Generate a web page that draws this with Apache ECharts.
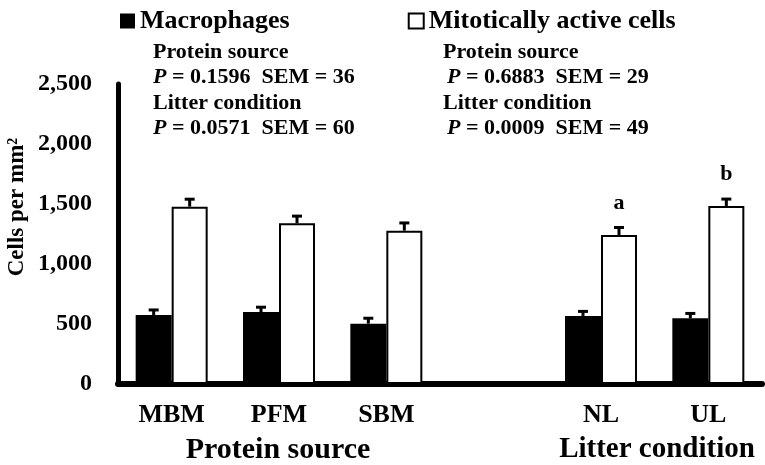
<!DOCTYPE html>
<html>
<head>
<meta charset="utf-8">
<script src="https://cdn.jsdelivr.net/npm/echarts@6/dist/echarts.min.js"></script>
<style>
html, body { margin: 0; padding: 0; background: #fff; }
#main { width: 765px; height: 465px; }
</style>
</head>
<body>
<div id="main"></div>
<script>
var categories = ['MBM', 'PFM', 'SBM', '', 'NL', 'UL'];
var macrophages = [575, 600, 503, null, 567, 547];
var macrophagesErr = [42, 40, 45, null, 38, 41];
var mitotic = [1478, 1339, 1278, null, 1242, 1483];
var mitoticErr = [62, 60, 64, null, 62, 58];
var sigLetters = ['', '', '', '', 'a', 'b'];
var yTicks = [0, 500, 1000, 1500, 2000, 2500];
var groupNames = ['Protein source', 'Litter condition'];
// [factor, P, SEM]
var statsMacro = [['Protein source', '0.1596', '36'], ['Litter condition', '0.0571', '60']];
var statsMitotic = [['Protein source', '0.6883', '29'], ['Litter condition', '0.0009', '49']];

var FONT = 'Liberation Serif, Times New Roman, serif';
var BAR_W = 36;

var dom = document.getElementById('main');
var myChart = echarts.init(dom);

function errData(means, errs) {
	var out = [];
	for (var i = 0; i < means.length; i++) {
		if (means[i] != null) out.push([i, means[i], errs[i]]);
	}
	return out;
}

function errRender(offset) {
	return function (params, api) {
		var x = api.value(0), y = api.value(1), e = api.value(2);
		var base = api.coord([x, y]);
		var top = api.coord([x, y + e]);
		var cx = base[0] + offset;
		return {
			type: 'group',
			children: [{
				type: 'line',
				shape: { x1: cx, y1: base[1], x2: cx, y2: top[1] },
				style: { stroke: '#000', lineWidth: 3 }
			}, {
				type: 'line',
				shape: { x1: cx - 5, y1: top[1], x2: cx + 5, y2: top[1] },
				style: { stroke: '#000', lineWidth: 3 }
			}]
		};
	};
}

function statText(stats, x, xIndent) {
	var ys = [52, 77, 103, 128];
	var items = [];
	stats.forEach(function (s, k) {
		items.push({
			type: 'text', x: x, y: ys[k * 2],
			style: { text: s[0], font: 'bold 22px ' + FONT, fill: '#000', textVerticalAlign: 'middle' }
		});
		items.push({
			type: 'text', x: xIndent, y: ys[k * 2 + 1],
			style: {
				text: '{i|P} = ' + s[1] + '  SEM = ' + s[2],
				font: 'bold 22px ' + FONT, fill: '#000', textVerticalAlign: 'middle',
				rich: {
					i: { fontStyle: 'italic', fontWeight: 'bold', fontSize: 22, fontFamily: FONT, fill: '#000' }
				}
			}
		});
	});
	return items;
}

var graphics = [].concat(
	statText(statsMacro, 153, 153),
	statText(statsMitotic, 443, 447),
	[{
		type: 'text', x: 17, y: 207, rotation: Math.PI / 2,
		style: {
			text: 'Cells per mm²', font: 'bold 23px ' + FONT, fill: '#000',
			textAlign: 'center', textVerticalAlign: 'middle'
		}
	}, {
		type: 'text', x: 278, y: 450,
		style: { text: groupNames[0], font: 'bold 30px ' + FONT, fill: '#000', textAlign: 'center', textVerticalAlign: 'middle' }
	}, {
		type: 'text', x: 657, y: 450,
		style: { text: groupNames[1], font: 'bold 29px ' + FONT, fill: '#000', textAlign: 'center', textVerticalAlign: 'middle' }
	}]
);

myChart.setOption({
	animation: false,
	backgroundColor: '#fff',
	textStyle: { fontFamily: FONT },
	legend: {
		data: ['Macrophages', 'Mitotically active cells'],
		left: 115,
		top: 3,
		icon: 'rect',
		itemWidth: 15,
		itemHeight: 15,
		itemGap: 118,
		textStyle: { fontSize: 26, fontWeight: 'bold', fontFamily: FONT, color: '#000' }
	},
	grid: { left: 118, right: 3, top: 84, bottom: 81, containLabel: false, outerBoundsMode: 'none' },
	xAxis: {
		type: 'category',
		data: categories,
		axisLine: { lineStyle: { color: '#000', width: 6 } },
		axisTick: { show: false },
		axisLabel: { fontSize: 26, fontWeight: 'bold', fontFamily: FONT, color: '#000', margin: 18 }
	},
	yAxis: {
		type: 'value',
		min: yTicks[0],
		max: yTicks[yTicks.length - 1],
		interval: yTicks[1] - yTicks[0],
		axisLine: { show: true, lineStyle: { color: '#000', width: 5 } },
		axisTick: { show: false },
		splitLine: { show: false },
		axisLabel: {
			fontSize: 24, fontWeight: 'bold', fontFamily: FONT, color: '#000', margin: 26,
			formatter: function (v) { return v.toLocaleString('en-US'); }
		}
	},
	graphic: graphics,
	series: [{
		name: 'Macrophages',
		type: 'bar',
		data: macrophages,
		barWidth: BAR_W,
		barGap: '0%',
		itemStyle: { color: '#000' }
	}, {
		name: 'Mitotically active cells',
		type: 'bar',
		data: mitotic,
		barWidth: BAR_W,
		barGap: '0%',
		itemStyle: { color: '#fff', borderColor: '#000', borderWidth: 2 },
		label: {
			show: true,
			position: 'top',
			distance: 21,
			fontSize: 22, fontWeight: 'bold', fontFamily: FONT, color: '#000',
			formatter: function (p) { return sigLetters[p.dataIndex]; }
		}
	}, {
		type: 'custom',
		data: errData(macrophages, macrophagesErr),
		renderItem: errRender(-BAR_W / 2),
		z: 5
	}, {
		type: 'custom',
		data: errData(mitotic, mitoticErr),
		renderItem: errRender(BAR_W / 2),
		z: 5
	}]
});
</script>
</body>
</html>
